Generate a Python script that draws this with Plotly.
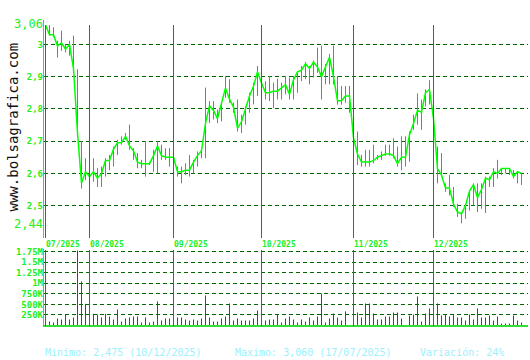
import plotly.graph_objects as go

W, H = 530, 360

# ---- data (trading-day index 0 = 17/07/2025) ----
close = [3.06, 3.03, 3.03, 2.995, 3.005, 2.985, 3.0, 2.925, 2.725, 2.57,
         2.605, 2.59, 2.605, 2.585, 2.6, 2.64, 2.64, 2.675, 2.695, 2.695,
         2.715, 2.685, 2.67, 2.635, 2.63, 2.63, 2.63, 2.655, 2.685, 2.655,
         2.65, 2.65, 2.65, 2.605, 2.605, 2.61, 2.61, 2.635, 2.655, 2.67,
         2.755, 2.81, 2.795, 2.77, 2.815, 2.865, 2.83, 2.805, 2.74, 2.76,
         2.8, 2.84, 2.87, 2.915, 2.88, 2.85, 2.85, 2.855, 2.855, 2.865,
         2.875, 2.845, 2.89, 2.915, 2.92, 2.94, 2.925, 2.945, 2.93, 2.9,
         2.93, 2.96, 2.9, 2.825, 2.825, 2.84, 2.84, 2.71, 2.66, 2.635,
         2.635, 2.635, 2.64, 2.65, 2.655, 2.66, 2.66, 2.655, 2.63, 2.65,
         2.65, 2.72, 2.755, 2.795, 2.79, 2.85, 2.86, 2.77, 2.615, 2.595,
         2.555, 2.555, 2.505, 2.48, 2.475, 2.5, 2.545, 2.565, 2.525, 2.55,
         2.585, 2.58, 2.605, 2.6, 2.615, 2.615, 2.615, 2.59, 2.605, 2.6]
high = [3.062, 3.061, 3.053, 3.011, 3.043, 3.0, 3.011, 3.027, 2.923, 2.70,
        2.647, 2.60, 2.647, 2.616, 2.621, 2.647, 2.657, 2.683, 2.704, 2.715,
        2.725, 2.751, 2.678, 2.663, 2.642, 2.70, 2.636, 2.673, 2.70, 2.689,
        2.678, 2.678, 2.66, 2.621, 2.621, 2.631, 2.657, 2.642, 2.668, 2.678,
        2.866, 2.824, 2.824, 2.798, 2.819, 2.902, 2.892, 2.819, 2.829, 2.782,
        2.808, 2.85, 2.881, 2.933, 2.939, 2.886, 2.902, 2.881, 2.894, 2.881,
        2.902, 2.897, 2.902, 2.913, 2.933, 2.945, 2.933, 2.95, 2.99, 2.996,
        2.939, 2.97, 2.996, 2.902, 2.871, 2.871, 2.871, 2.819, 2.73, 2.657,
        2.673, 2.673, 2.689, 2.657, 2.668, 2.689, 2.689, 2.709, 2.683, 2.715,
        2.715, 2.73, 2.782, 2.848, 2.829, 2.86, 2.889, 2.871, 2.683, 2.663,
        2.569, 2.595, 2.558, 2.506, 2.48, 2.50, 2.548, 2.569, 2.569, 2.569,
        2.59, 2.59, 2.616, 2.642, 2.616, 2.616, 2.616, 2.61, 2.605, 2.60]
low = [3.05, 3.027, 3.022, 2.959, 2.98, 2.975, 2.965, 2.915, 2.72, 2.553,
       2.579, 2.558, 2.574, 2.558, 2.558, 2.59, 2.61, 2.621, 2.657, 2.689,
       2.704, 2.673, 2.642, 2.616, 2.616, 2.59, 2.626, 2.605, 2.60, 2.642,
       2.642, 2.621, 2.645, 2.59, 2.569, 2.595, 2.59, 2.60, 2.621, 2.647,
       2.647, 2.756, 2.767, 2.756, 2.761, 2.834, 2.819, 2.788, 2.73, 2.725,
       2.751, 2.788, 2.814, 2.84, 2.85, 2.829, 2.824, 2.803, 2.829, 2.829,
       2.845, 2.829, 2.829, 2.85, 2.886, 2.892, 2.876, 2.897, 2.912, 2.829,
       2.876, 2.876, 2.876, 2.813, 2.813, 2.819, 2.788, 2.704, 2.626, 2.621,
       2.621, 2.621, 2.631, 2.642, 2.642, 2.655, 2.655, 2.647, 2.621, 2.61,
       2.621, 2.636, 2.735, 2.751, 2.735, 2.808, 2.814, 2.767, 2.569, 2.59,
       2.543, 2.532, 2.496, 2.465, 2.445, 2.459, 2.485, 2.501, 2.48, 2.49,
       2.477, 2.558, 2.558, 2.584, 2.595, 2.60, 2.595, 2.584, 2.569, 2.564]
volume_k = [95, 95, 71, 166, 142, 260, 142, 190, 1777, 1043,
            513, 150, 276, 260, 190, 276, 213, 142, 379, 95,
            166, 190, 213, 213, 71, 190, 71, 95, 569, 118,
            166, 166, 150, 190, 190, 142, 118, 142, 118, 166,
            711, 190, 95, 95, 166, 213, 521, 118, 166, 118,
            118, 118, 166, 355, 237, 118, 142, 142, 260, 71,
            166, 213, 142, 71, 142, 95, 190, 118, 213, 758,
            71, 166, 284, 190, 118, 332, 10, 900, 308, 190,
            521, 521, 284, 142, 142, 213, 213, 308, 308, 166,
            10, 237, 260, 687, 95, 284, 403, 545, 521, 237,
            260, 213, 260, 190, 190, 118, 260, 142, 403, 190,
            190, 237, 118, 213, 47, 47, 47, 237, 118, 71]

month_labels = ["07/2025", "08/2025", "09/2025", "10/2025", "11/2025", "12/2025"]
month_start = [0, 11, 32, 54, 77, 97]

price_ticks = [2.44, 2.5, 2.6, 2.7, 2.8, 2.9, 3.0, 3.06]
price_tick_text = ["2,44", "2,5", "2,6", "2,7", "2,8", "2,9", "3", "3,06"]
vol_ticks = [250, 500, 750, 1000, 1250, 1500, 1750]
vol_tick_text = ["250K", "500K", "750K", "1M", "1.25M", "1.5M", "1.75M"]

footer = ["Minimo: 2,475 (10/12/2025)", "Maximo: 3,060 (17/07/2025)", "Variación: 24%"]

days = list(range(len(close)))

# ---- styling ----
LIME = "#22ee22"
GRID = "#006600"
MONTH = "#009900"
MONO = "DejaVu Sans Mono"


def px(xp):
    return xp / W


def py(yp):
    return 1 - yp / H


fig = go.Figure()

# high-low bars
hx, hy = [], []
for d, h, l in zip(days, high, low):
    hx += [d, d, None]
    hy += [l, h, None]
fig.add_trace(go.Scatter(x=hx, y=hy, mode="lines", line=dict(color="#1ea2b4", width=1),
                         hoverinfo="skip", showlegend=False))
# close line
fig.add_trace(go.Scatter(x=days, y=close, mode="lines", line=dict(color="#00ff00", width=1.5),
                         showlegend=False))
# volume as 1px sticks
vx, vy = [], []
for d, v in zip(days, volume_k):
    vx += [d, d, None]
    vy += [0, v, None]
fig.add_trace(go.Scatter(x=vx, y=vy, mode="lines", line=dict(color="#ee0000", width=1),
                         yaxis="y2", hoverinfo="skip", showlegend=False))

big = "<span style='font-size:12px;font-weight:normal'>%s</span>"
ptext = [big % t if t in ("3,06", "2,44") else t for t in price_tick_text]

X0 = 45.5
x_lo = (44 - X0) / 4
x_hi = (528 - X0) / 4

fig.update_layout(
    width=W, height=H,
    margin=dict(l=0, r=0, t=0, b=0, pad=0),
    paper_bgcolor="white", plot_bgcolor="white",
    xaxis=dict(domain=[px(44), px(528)], range=[x_lo, x_hi], showticklabels=False,
               showgrid=False, zeroline=False, showline=False, ticks="", automargin=False),
    yaxis=dict(domain=[py(225), py(25)], range=[2.4399, 3.0601], tickvals=price_ticks,
               ticktext=ptext, showgrid=True, gridcolor=GRID, gridwidth=1,
               griddash="4px,3px", zeroline=False, showline=False, ticks="", automargin=False,
               tickfont=dict(family=MONO, size=9, color=LIME, weight="bold")),
    yaxis2=dict(domain=[py(325.5), py(249.5)], range=[0, 1800], tickvals=vol_ticks,
                ticktext=vol_tick_text, showgrid=True, gridcolor=GRID, gridwidth=1,
                griddash="4px,3px", zeroline=False, showline=False, ticks="",
                anchor="x", automargin=False,
                tickfont=dict(family=MONO, size=9, color=LIME, weight="bold")),
)

shapes = []
# bright axis lines
shapes.append(dict(type="line", xref="paper", yref="paper", x0=px(43.5), x1=px(43.5),
                   y0=py(238), y1=py(20), line=dict(color="#33e033", width=1)))
shapes.append(dict(type="line", xref="paper", yref="paper", x0=px(43.5), x1=px(43.5),
                   y0=py(326.5), y1=py(249), line=dict(color="#33e033", width=1)))
shapes.append(dict(type="line", xref="paper", yref="paper", x0=px(43), x1=px(528),
                   y0=py(326), y1=py(326), line=dict(color="#33dd33", width=2)))
# month lines
for m in month_start:
    shapes.append(dict(type="line", xref="x", yref="paper", x0=m, x1=m,
                       y0=py(238), y1=py(25), line=dict(color=MONTH, width=1)))
    shapes.append(dict(type="line", xref="x", yref="paper", x0=m, x1=m,
                       y0=py(326), y1=py(250), line=dict(color=MONTH, width=1)))
fig.update_layout(shapes=shapes)

ann = []
for m, lab in zip(month_start, month_labels):
    ann.append(dict(x=m, xref="x", y=py(244), yref="paper", text=lab, showarrow=False,
                    xanchor="left", yanchor="middle", xshift=-2,
                    font=dict(family=MONO, size=8, color=LIME, weight="bold")))
ann.append(dict(x=px(12.5), y=py(127), xref="paper", yref="paper", text="www.bolsagrafica.com",
                textangle=-90, showarrow=False, xanchor="center", yanchor="middle",
                font=dict(family=MONO, size=14, color="#111111")))
for xp, t in zip([45, 235, 420], footer):
    ann.append(dict(x=px(xp), y=py(352), xref="paper", yref="paper", text=t, showarrow=False,
                    xanchor="left", yanchor="middle", xshift=-2,
                    font=dict(family=MONO, size=10, color="#9cf0fc")))
fig.update_layout(annotations=ann)

fig.write_html("out.html")
